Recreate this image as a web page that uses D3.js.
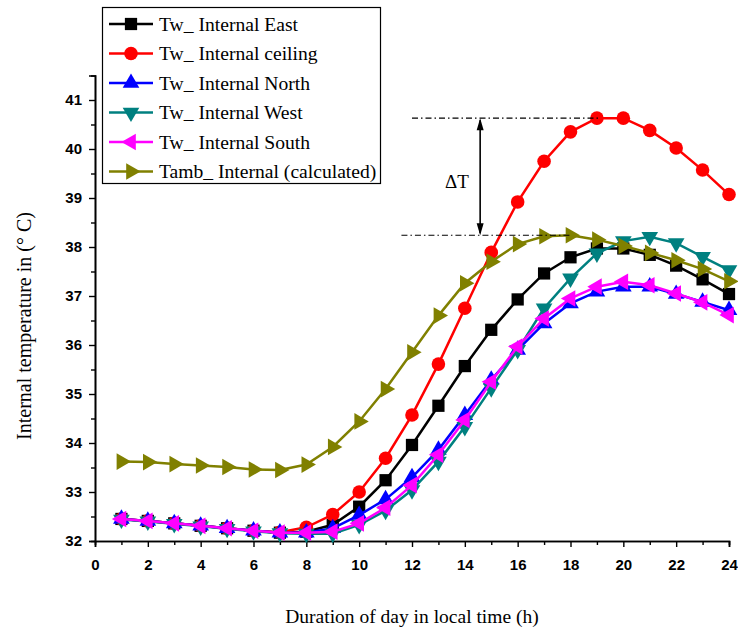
<!DOCTYPE html>
<html>
<head>
<meta charset="utf-8">
<script src="https://cdn.jsdelivr.net/npm/d3@7"></script>
<style>
  body { margin: 0; background: #fff; }
  svg { display: block; }
</style>
</head>
<body>
<svg id="chart"></svg>
<script>
const W = 738, H = 633;

// hours of the day
const hours = d3.range(1, 25);

// series values (°C)
const east    = [32.45, 32.41, 32.36, 32.31, 32.26, 32.21, 32.17, 32.19, 32.33, 32.70, 33.24, 33.96, 34.76, 35.57, 36.31, 36.93, 37.46, 37.79, 37.97, 37.97, 37.84, 37.62, 37.34, 37.04];
const ceiling = [32.45, 32.41, 32.36, 32.31, 32.26, 32.21, 32.18, 32.28, 32.54, 33.00, 33.69, 34.57, 35.61, 36.75, 37.89, 38.92, 39.75, 40.35, 40.63, 40.63, 40.38, 40.02, 39.57, 39.07];
const north   = [32.45, 32.41, 32.36, 32.31, 32.26, 32.21, 32.17, 32.17, 32.26, 32.53, 32.85, 33.30, 33.86, 34.57, 35.29, 35.90, 36.44, 36.85, 37.09, 37.19, 37.19, 37.04, 36.88, 36.71];
const west    = [32.44, 32.40, 32.35, 32.30, 32.25, 32.20, 32.16, 32.15, 32.15, 32.33, 32.62, 33.04, 33.62, 34.33, 35.12, 35.90, 36.75, 37.36, 37.87, 38.12, 38.21, 38.08, 37.80, 37.53];
const south   = [32.45, 32.41, 32.36, 32.31, 32.26, 32.21, 32.17, 32.17, 32.19, 32.36, 32.68, 33.14, 33.76, 34.47, 35.25, 35.97, 36.54, 36.95, 37.19, 37.29, 37.22, 37.05, 36.87, 36.61];
const tamb    = [33.62, 33.61, 33.57, 33.54, 33.51, 33.46, 33.45, 33.56, 33.92, 34.44, 35.10, 35.85, 36.60, 37.26, 37.70, 38.06, 38.22, 38.24, 38.15, 38.02, 37.88, 37.73, 37.55, 37.30];

const seriesNames = ["Tw_ Internal East", "Tw_ Internal ceiling", "Tw_ Internal North",
                     "Tw_ Internal West", "Tw_ Internal South", "Tamb_ Internal (calculated)"];
const seriesValues = [east, ceiling, north, west, south, tamb];
const colors = ["#000000", "#ff0000", "#0000ff", "#008080", "#ff00ff", "#808000"];
const shapes = ["square", "circle", "up", "down", "left", "right"];

const xTicks = d3.range(0, 25, 2);
const yTicks = d3.range(32, 42, 1);

const serif = "'Liberation Serif', 'Times New Roman', serif";

const svg = d3.select("#chart").attr("width", W).attr("height", H);

const x = d3.scaleLinear().domain([0, 24]).range([95, 729]);
const y = d3.scaleLinear().domain([32, 41.5]).range([541, 75.5]);

// axes
const xAxis = d3.axisBottom(x).tickValues(xTicks).tickSize(6).tickPadding(12).tickFormat(d3.format("d"));
const xMinor = d3.axisBottom(x).tickValues(d3.range(1, 24, 2)).tickSize(4).tickFormat("");
const yAxis = d3.axisLeft(y).tickValues(yTicks).tickSize(6).tickPadding(7).tickFormat(d3.format("d"));
const yMinor = d3.axisLeft(y).tickValues(d3.range(32.5, 41.5, 1)).tickSize(4).tickFormat("");

function styleAxis(g) {
  g.selectAll(".domain").attr("stroke", "#000").attr("stroke-width", 1.6);
  g.selectAll(".tick line").attr("stroke", "#000").attr("stroke-width", 1.4);
  g.selectAll(".tick text")
    .attr("fill", "#000")
    .style("font-family", "'Liberation Sans', Arial, sans-serif")
    .style("font-weight", "bold")
    .style("font-size", "15px");
}

svg.append("g").attr("transform", `translate(0,${y(32)})`).call(xMinor).call(styleAxis);
svg.append("g").attr("transform", `translate(0,${y(32)})`).call(xAxis).call(styleAxis);
svg.append("g").attr("transform", `translate(${x(0)},0)`).call(yMinor).call(styleAxis);
svg.append("g").attr("transform", `translate(${x(0)},0)`).call(yAxis).call(styleAxis);

// axis titles
svg.append("text")
  .attr("x", (x(0) + x(24)) / 2)
  .attr("y", 623)
  .attr("text-anchor", "middle")
  .style("font-family", serif)
  .style("font-size", "19.5px")
  .text("Duration of day in local time (h)");

svg.append("text")
  .attr("transform", `translate(31,326) rotate(-90)`)
  .attr("text-anchor", "middle")
  .style("font-family", serif)
  .style("font-size", "20px")
  .text("Internal temperature in (° C)");

// marker paths
function markerPath(shape) {
  if (shape === "square") return d3.symbol(d3.symbolSquare, 150)();
  if (shape === "circle") return d3.symbol(d3.symbolCircle, 145)();
  return d3.symbol(d3.symbolTriangle, 120)();
}
const rot = {up: 0, down: 180, left: -90, right: 90, square: 0, circle: 0};

const line = d3.line().x((d, i) => x(hours[i])).y(d => y(d));

seriesValues.forEach((vals, k) => {
  const g = svg.append("g");
  g.append("path")
    .datum(vals)
    .attr("d", line)
    .attr("fill", "none")
    .attr("stroke", colors[k])
    .attr("stroke-width", 2.5);
  g.selectAll("path.m")
    .data(vals)
    .join("path")
    .attr("class", "m")
    .attr("d", markerPath(shapes[k]))
    .attr("transform", (d, i) => `translate(${x(hours[i])},${y(d)}) rotate(${rot[shapes[k]]})`)
    .attr("fill", colors[k]);
});

// ΔT annotation
const topVal = d3.max(ceiling);
const lowVal = d3.max(tamb);
const ann = svg.append("g");
ann.append("line")
  .attr("x1", x(12)).attr("x2", x(19.1))
  .attr("y1", y(topVal)).attr("y2", y(topVal))
  .attr("stroke", "#000").attr("stroke-width", 1.2).attr("stroke-dasharray", "6,3,1.5,3");
ann.append("line")
  .attr("x1", x(11.6)).attr("x2", x(18))
  .attr("y1", y(lowVal)).attr("y2", y(lowVal))
  .attr("stroke", "#000").attr("stroke-width", 1.2).attr("stroke-dasharray", "6,3,1.5,3");

const ax = x(14.58);
ann.append("line")
  .attr("x1", ax).attr("x2", ax)
  .attr("y1", y(topVal) + 2).attr("y2", y(lowVal) - 2)
  .attr("stroke", "#000").attr("stroke-width", 1.6);
ann.append("path")
  .attr("d", `M${ax},${y(topVal)} l-3.5,12 l7,0 Z`)
  .attr("fill", "#000");
ann.append("path")
  .attr("d", `M${ax},${y(lowVal)} l-3.5,-12 l7,0 Z`)
  .attr("fill", "#000");
ann.append("text")
  .attr("x", 457)
  .attr("y", 188)
  .attr("text-anchor", "middle")
  .style("font-family", serif)
  .style("font-size", "19px")
  .text("ΔT");

// legend
const legend = svg.append("g");
legend.append("rect")
  .attr("x", 102.5).attr("y", 7.5)
  .attr("width", 278).attr("height", 176)
  .attr("fill", "#fff")
  .attr("stroke", "#000")
  .attr("stroke-width", 1.2);

seriesNames.forEach((name, k) => {
  const ly = 24 + k * 29.5;
  legend.append("line")
    .attr("x1", 109).attr("x2", 153)
    .attr("y1", ly).attr("y2", ly)
    .attr("stroke", colors[k]).attr("stroke-width", 2.5);
  legend.append("path")
    .attr("d", markerPath(shapes[k]))
    .attr("transform", `translate(131,${ly}) rotate(${rot[shapes[k]]})`)
    .attr("fill", colors[k]);
  legend.append("text")
    .attr("x", 159).attr("y", ly + 6.5)
    .style("font-family", serif)
    .style("font-size", "19.6px")
    .text(name);
});
</script>
</body>
</html>
